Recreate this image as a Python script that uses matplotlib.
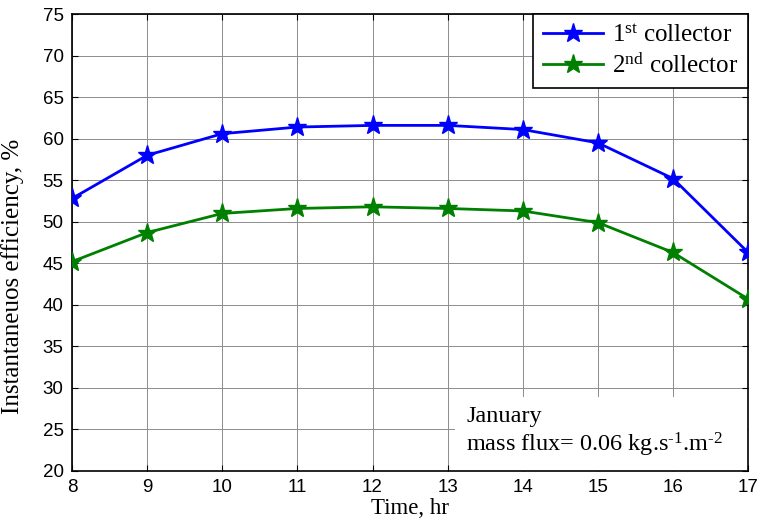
import matplotlib
matplotlib.use('Agg')
import matplotlib.pyplot as plt
import matplotlib.patches as patches

plt.rcParams['mathtext.fontset'] = 'custom'
plt.rcParams['mathtext.rm'] = 'Liberation Serif'
plt.rcParams['mathtext.it'] = 'Liberation Serif:italic'

# hourly instantaneous efficiency for the two collectors
hours = [8, 9, 10, 11, 12, 13, 14, 15, 16, 17]
eff_first = [52.8, 58.0, 60.6, 61.4, 61.6, 61.6, 61.1, 59.5, 55.2, 46.3]
eff_second = [45.2, 48.7, 51.0, 51.6, 51.8, 51.6, 51.3, 49.9, 46.3, 40.7]
yticks = list(range(20, 80, 5))

fig = plt.figure(figsize=(7.58, 5.21), dpi=100)
ax = fig.add_axes([0.095, 0.096, 0.892, 0.877])

ax.plot(hours, eff_first, color='#0000ff', lw=2, marker='*', ms=14,
        label=r'1$^{\mathrm{st}}$ collector', zorder=3)
ax.plot(hours, eff_second, color='#008000', lw=2, marker='*', ms=14,
        label=r'2$^{\mathrm{nd}}$ collector', zorder=3)

ax.set_xlim(8, 17)
ax.set_ylim(20, 75)
ax.set_xticks(hours)
ax.set_yticks(yticks)
ax.grid(True, color='#8c8c8c', lw=0.7)
ax.tick_params(direction='in', top=True, right=True, length=4, labelsize=13.5, pad=6)
for lab in ax.get_xticklabels() + ax.get_yticklabels():
    lab.set_family('Liberation Sans')
for s in ax.spines.values():
    s.set_linewidth(1.2)

ax.set_xlabel('Time, hr', family='Liberation Serif', fontsize=16.5)
ax.set_ylabel('Instantaneuos efficiency, %', family='Liberation Serif', fontsize=18)
ax.xaxis.set_label_coords(0.5, -0.06)
ax.yaxis.set_label_coords(-0.071, 0.427)

leg = ax.legend(loc='upper right', prop={'family': 'Liberation Serif', 'size': 18},
                fancybox=False, framealpha=1, edgecolor='black',
                borderaxespad=0, handlelength=2.4, handletextpad=0.35,
                borderpad=0.4, labelspacing=0.25)
leg.get_frame().set_linewidth(1.2)

# white panel holding the test conditions
panel = patches.Rectangle((0.567, 0.0), 0.433, 0.162, transform=ax.transAxes,
                          facecolor='white', edgecolor='none', zorder=2.5)
ax.add_patch(panel)
ax.text(0.583, 0.142, 'January\nmass flux= 0.06 kg.s$^{\\mathrm{\u20101}}$.m$^{\\mathrm{\u20102}}$',
        transform=ax.transAxes, va='top', ha='left', fontsize=17.5,
        family='Liberation Serif', linespacing=1.2, zorder=4)

fig.savefig('out.png', dpi=100)
